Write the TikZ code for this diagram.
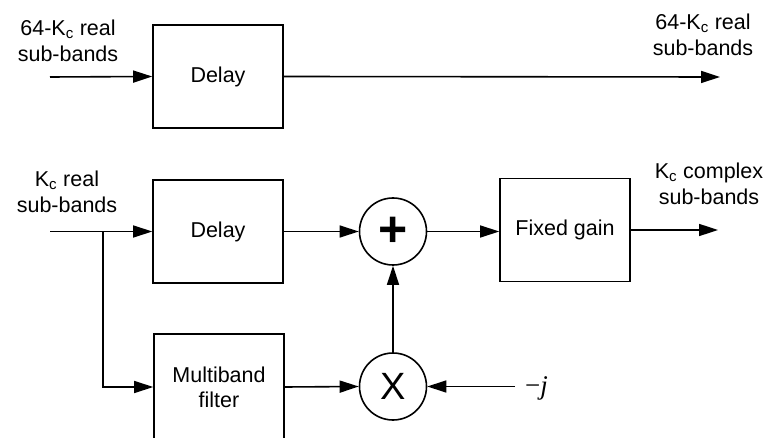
\documentclass[tikz,border=0pt]{standalone}
\usepackage{fontspec}
\setmainfont{Liberation Sans}
\newfontfamily\jserif{Liberation Serif}
\usetikzlibrary{arrows.meta}
\begin{document}
\begin{tikzpicture}[x=1pt,y=-1pt,
  blk/.style={draw, line width=1.6pt, minimum width=130pt, minimum height=103pt, font=\fontsize{21.5}{25}\selectfont, align=center, inner sep=0pt},
  opnode/.style={draw, circle, line width=1.6pt, minimum size=67pt, inner sep=0pt},
  lbl/.style={font=\fontsize{21.5}{26}\selectfont, align=center, inner sep=0pt},
  sig/.style={line width=1.6pt, -{Triangle[length=19pt,width=12pt]}},
  wire/.style={line width=1.6pt}]
\useasboundingbox (0,0) rectangle (776,438);
\clip (0,0) rectangle (776,438);
% blocks
\node[blk] (d1) at (218,76.5) {Delay};
\node[blk] (d2) at (218,231.5) {Delay};
\node[blk] (fg) at (565,230) {Fixed gain};
\node[blk, minimum height=106pt] (mb) at (219,387) {Multiband\\filter};
\node[opnode] (plus) at (393,231.5) {\raisebox{-3pt}{\fontsize{50}{50}\selectfont\bfseries +}};
\node[opnode] (mul) at (393,386.5) {\fontsize{38}{38}\selectfont X};
% labels
\node[lbl] (l1) at (68,41) {64-K\textsubscript{c} real\\sub-bands};
\node[lbl] (l2) at (703,35) {64-K\textsubscript{c} real\\sub-bands};
\node[lbl] (l3) at (67,192) {K\textsubscript{c} real\\sub-bands};
\node[lbl] (l4) at (709,184) {K\textsubscript{c} complex\\sub-bands};
\node[anchor=west, inner sep=0pt, font=\fontsize{27}{30}\selectfont] (lj) at (525,388) {{\jserif −\itshape j}};
% coordinates
\coordinate (in1) at (50,77);
\coordinate (out1) at (720,77);
\coordinate (in2) at (50,231.5);
\coordinate (br) at (103,231.5);
\coordinate (out2) at (718,230);
\coordinate (jin) at (515,386.5);
% connectors
\draw[sig] (in1) -- (d1.west);
\draw[sig] (d1.east) -- (out1);
\draw[sig] (in2) -- (d2.west);
\draw[sig] (br) |- (mb.west);
\draw[sig] (d2.east) -- (plus.west);
\draw[sig] (plus.east) -- (fg.west |- plus.east);
\draw[sig] (fg.east) -- (out2);
\draw[sig] (mb.east) -- (mul.west);
\draw[sig] (mul.north) -- (plus.south);
\draw[sig] (jin) -- (mul.east);
\end{tikzpicture}
\end{document}
